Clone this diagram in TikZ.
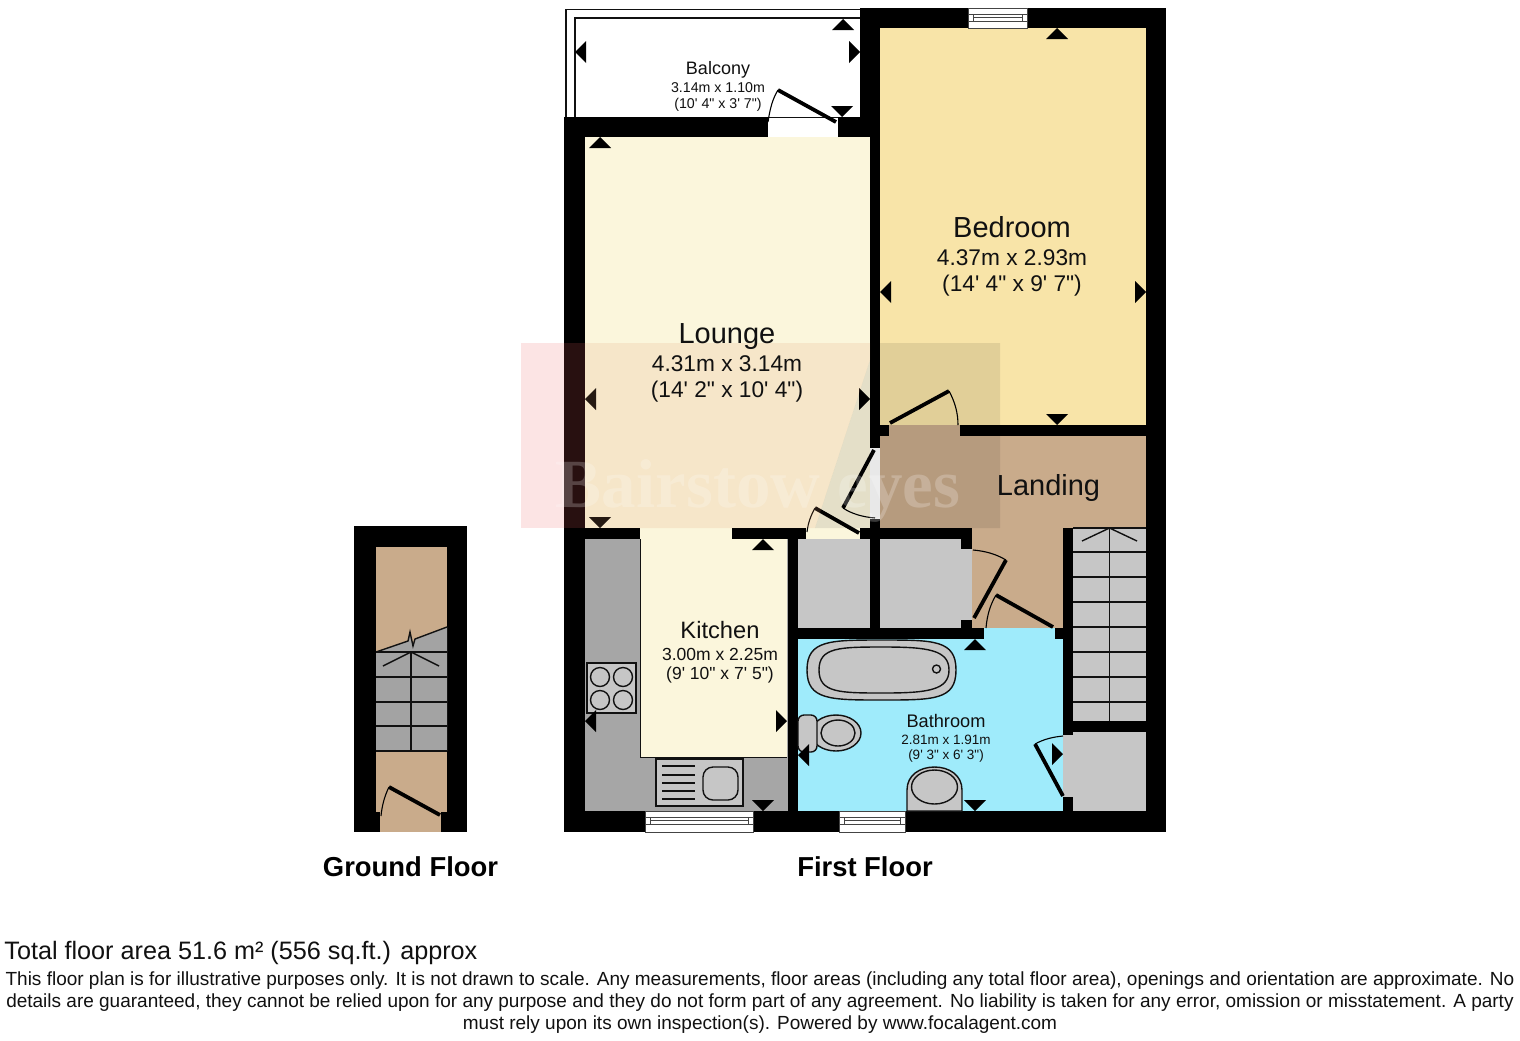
\documentclass[tikz,border=0pt]{standalone}
\usepackage{fontspec}
\newfontfamily\pf{Liberation Sans}
\newcommand{\pfs}[1]{\pf\fontsize{\fpeval{#1*0.5}}{\fpeval{#1*0.6}}\selectfont}
\definecolor{lounge}{HTML}{FBF6DC}
\definecolor{bedroom}{HTML}{F8E4A8}
\definecolor{landing}{HTML}{C9AB8B}
\definecolor{bath}{HTML}{9FEBFB}
\definecolor{kitgrey}{HTML}{A6A6A6}
\definecolor{cup}{HTML}{C6C6C6}
\definecolor{gstair}{HTML}{A3A3A3}
\definecolor{ink}{HTML}{111111}
\definecolor{winline}{HTML}{444444}
\definecolor{markpink}{HTML}{F06060}
\definecolor{markpeach}{HTML}{E09A70}
\tikzset{
 wall/.style={fill=black,draw=none},
 leaf/.style={line width=1.9pt,draw=black},
 swing/.style={line width=0.55pt,draw=black},
 fix/.style={line width=0.7pt,draw=ink,fill=cup},
 thin/.style={line width=0.7pt,draw=ink},
 lab/.style={anchor=base,inner sep=0pt,text=ink},
 tri/.style={fill=black,draw=none},
}
\newcommand{\tup}[2]{\fill[tri] (#1,#2) -- (#1-11,#2+11) -- (#1+11,#2+11) -- cycle;}
\newcommand{\tdn}[2]{\fill[tri] (#1,#2) -- (#1-11,#2-11) -- (#1+11,#2-11) -- cycle;}
\newcommand{\tlf}[2]{\fill[tri] (#1,#2) -- (#1+11,#2-11) -- (#1+11,#2+11) -- cycle;}
\newcommand{\trt}[2]{\fill[tri] (#1,#2) -- (#1-11,#2-11) -- (#1-11,#2+11) -- cycle;}
\newcommand{\win}[4]{\draw[line width=0.5pt,draw=winline,fill=white] (#1,#2) rectangle (#3,#4);
  \draw[line width=0.5pt,draw=winline] (#1,#2+6) -- (#3,#2+6) (#1,#2+13) -- (#3,#2+13);
  \draw[line width=0.4pt,draw=winline] (#1+5,#2+6) -- (#1+5,#2+13) (#3-5,#2+6) -- (#3-5,#2+13) (#1+5,#2+9.5) -- (#3-5,#2+9.5);}
\begin{document}
\begin{tikzpicture}[x=0.5pt,y=-0.5pt]
\useasboundingbox (0,0) rectangle (1520,1040);
\fill[white] (0,0) rectangle (1520,1040);
% ---------- room fills
\fill[lounge] (585,137) rectangle (870,539);
\fill[white] (768,117) rectangle (838,137);
\fill[bedroom] (880,28) rectangle (1146,425);
\fill[landing] (880,425) -- (1146,425) -- (1146,528) -- (1063,528) -- (1063,628) -- (972,628) -- (972,530) -- (880,530) -- cycle;
\fill[kitgrey] (584,539) rectangle (788,811);
\fill[lounge] (640,539) rectangle (787,757);
\draw[line width=0.5pt,draw=ink] (640,539) -- (640,757) -- (787,757);
\fill[cup] (798,539) rectangle (870,628);
\fill[cup] (880,539) rectangle (972,628);
\fill[bath] (798,639) rectangle (1063,811);
\fill[bath] (984,628) rectangle (1055,639);
\fill[cup] (1063,732) rectangle (1146,811);
\fill[cup] (1073,528) rectangle (1146,721);
% ---------- balcony
\draw[thin] (860,9.5) -- (566,9.5) -- (566,117);
\draw[thin] (860,18) -- (575,18) -- (575,117);
\draw[line width=0.5pt,draw=ink] (768,117) -- (838,117);
% ---------- walls first floor
\fill[wall] (860,8) rectangle (1166,28);
\fill[wall] (1146,8) rectangle (1166,832);
\fill[wall] (564,117) rectangle (768,137);
\fill[wall] (838,117) rectangle (880,137);
\fill[wall] (860,8) rectangle (880,137);
\fill[wall] (564,117) rectangle (584.5,832);
\fill[wall] (564,811) rectangle (1166,832);
\fill[wall] (870,137) rectangle (880,448);
\fill[wall] (870,425) rectangle (889,436);
\fill[wall] (960,425) rectangle (1146,436);
\fill[wall] (870,519) rectangle (880,628);
\fill[wall] (584,528) rectangle (640,539);
\fill[wall] (732,528) rectangle (806,539);
\fill[wall] (860,528) rectangle (972,539);
\fill[wall] (961,539) rectangle (972,549);
\fill[wall] (961,620) rectangle (972,628);
\fill[wall] (788,528) rectangle (798,832);
\fill[wall] (788,628) rectangle (984,639);
\fill[wall] (1055,628) rectangle (1073,639);
\fill[wall] (1063,528) rectangle (1073,735);
\fill[wall] (1063,721) rectangle (1146,732);
\fill[wall] (1063,797) rectangle (1073,811);
% ---------- windows
\win{968}{8}{1027}{28}
\win{645}{811}{753}{832}
\win{839}{811}{905}{832}
% ---------- stairs first floor
\draw[thin] (1109.5,528) -- (1109.5,721);
\foreach \y in {528,552,577,602,627,652,677,702} \draw[thin] (1073,\y) -- (1146,\y);
\draw[thin] (1082,541) -- (1109.5,528) -- (1137,541);
% ---------- fixtures
\draw[fix] (587,663) rectangle (636,713);
\foreach \a/\b in {600/677,623/677,600/700,623/700} \draw[thin] (\a,\b) circle (9.5);
\draw[fix] (656,759) rectangle (743,806);
\foreach \y in {766,775,783,791,799} \draw[thin] (662,\y) -- (695,\y);
\draw[fix,rounded corners=5pt] (703,767) rectangle (738,800);
\draw[fix] (807,670) .. controls (807,640) and (830,640) .. (882,640) .. controls (934,640) and (956,640) .. (956,670) .. controls (956,700) and (934,700) .. (882,700) .. controls (830,700) and (807,700) .. (807,670) -- cycle;
\draw[thin] (819,670) .. controls (819,647) and (840,647) .. (884,647) .. controls (928,647) and (949,650) .. (949,670) .. controls (949,690) and (928,693) .. (884,693) .. controls (840,693) and (819,693) .. (819,670) -- cycle;
\draw[thin] (936.5,669) circle (4);
\draw[fix] (836,733) ellipse (25 and 18);
\draw[fix,rounded corners=3pt] (798,715) rectangle (817,752);
\draw[thin] (838,733) ellipse (17 and 13);
\draw[fix] (907,811) -- (907,790) .. controls (907,775) and (920,767) .. (934.5,767) .. controls (949,767) and (962,775) .. (962,790) -- (962,811) -- cycle;
\draw[thin] (934.5,787) ellipse (23 and 17);
% ---------- doors
\draw[swing] (768,122) .. controls (770,108) and (773,98) .. (778,90);
\draw[leaf] (778,90) -- (836,122);
\draw[swing] (949,391) .. controls (955,402) and (958,413) .. (958,425);
\draw[leaf] (890,423) -- (949,391);
\draw[swing] (843,508) .. controls (852,514) and (863,517) .. (875,518);
\draw[leaf] (874,450) -- (843,508);
\draw[swing] (815,508) .. controls (811,515) and (808,523) .. (807,532);
\draw[leaf] (859,533) -- (815,508);
\draw[swing] (1006,560) .. controls (996,554) and (985,551) .. (973,550);
\draw[leaf] (974,618) -- (1006,560);
\draw[swing] (996,595) .. controls (990,605) and (987,616) .. (986,628);
\draw[leaf] (1053,627) -- (996,595);
\draw[swing] (1035,744) .. controls (1044,739) and (1053,737) .. (1063,736);
\draw[leaf] (1063,796) -- (1035,744);
% ---------- dimension markers
\tup{843}{19} \tlf{575}{52} \trt{860}{52} \tdn{842}{117}
\tup{600}{137} \tlf{585}{399} \trt{870}{399} \tdn{600}{528}
\tup{1057}{28} \tlf{880}{292} \trt{1146}{292} \tdn{1057}{425}
\tup{763}{539} \tlf{585}{721} \trt{787}{721} \tdn{763}{811}
\tup{975}{639} \tlf{798}{755} \trt{1063}{754} \tdn{975}{811}
% ---------- ground floor
\fill[wall] (354,526) rectangle (467,832);
\fill[landing] (376,547) rectangle (447,752);
\fill[landing] (376,752) rectangle (447,812);
\fill[landing] (380,812) rectangle (441,832);
\fill[gstair] (376,652) -- (408,641) -- (410,632) -- (413,646) -- (415,639) -- (447,627) -- (447,751) -- (376,751) -- cycle;
\draw[line width=0.7pt,draw=ink] (376,652) -- (408,641) -- (410,632) -- (413,646) -- (415,639) -- (447,627);
\draw[thin] (411,652) -- (411,751);
\foreach \y in {652,677,702,726,751} \draw[thin] (376,\y) -- (447,\y);
\draw[thin] (383,666) -- (411,652) -- (439,666);
\draw[swing] (381,816) .. controls (382,805) and (385,795) .. (389,787);
\draw[leaf] (389,787) -- (440,815);
% ---------- watermark
\fill[markpink,opacity=0.17] (521,343) rectangle (585,528);
\fill[markpeach,opacity=0.17] (585,343) -- (870,343) -- (870,360) -- (815,528) -- (585,528) -- cycle;
\fill[black,opacity=0.09] (870,360) -- (870,343) -- (1000,343) -- (1000,528) -- (815,528) -- cycle;
\node[anchor=base,inner sep=0pt,text=white,opacity=0.22] (mark) at (758,507) {\fontspec{Liberation Serif}\fontsize{34.5}{36}\selectfont\bfseries Bairstow eyes};
% ---------- labels
\node[lab] (balcony) at (718,74) {\pfs{18}Balcony};
\node[lab] (balconya) at (718,92) {\pfs{14.2}3.14m x 1.10m};
\node[lab] (balconyb) at (718,108) {\pfs{14.2}(10' 4" x 3' 7")};
\node[lab] (bedrooma) at (1012,237) {\pfs{29}Bedroom};
\node[lab] (bedroomb) at (1012,265) {\pfs{22.7}4.37m x 2.93m};
\node[lab] (bedroomc) at (1012,291) {\pfs{22.7}(14' 4" x 9' 7")};
\node[lab] (loungea) at (727,343) {\pfs{29}Lounge};
\node[lab] (loungeb) at (727,371) {\pfs{22.7}4.31m x 3.14m};
\node[lab] (loungec) at (727,397) {\pfs{22.7}(14' 2" x 10' 4")};
\node[lab] (landingl) at (1048.5,495) {\pfs{29}Landing};
\node[lab] (kitchena) at (720,638) {\pfs{23.7}Kitchen};
\node[lab] (kitchenb) at (720,660) {\pfs{17.5}3.00m x 2.25m};
\node[lab] (kitchenc) at (720,679) {\pfs{17.5}(9' 10" x 7' 5")};
\node[lab] (batha) at (946,727) {\pfs{18.2}Bathroom};
\node[lab] (bathb) at (946,744) {\pfs{13.5}2.81m x 1.91m};
\node[lab] (bathc) at (946,759) {\pfs{13.5}(9' 3" x 6' 3")};
\node[lab,text=black] (ground) at (410.5,876) {\pfs{27.4}\bfseries Ground Floor};
\node[lab,text=black] (first) at (865,876) {\pfs{27.4}\bfseries First Floor};
\node[anchor=base west,inner sep=0pt,text=ink] (total) at (4,959) {\pfs{25.2}Total floor area 51.6 m² (556 sq.ft.) approx};
\node[lab] (d1) at (760,985) {\pfs{19}This floor plan is for illustrative purposes only. It is not drawn to scale. Any measurements, floor areas (including any total floor area), openings and orientation are approximate. No};
\node[lab] (d2) at (760,1007) {\pfs{19}details are guaranteed, they cannot be relied upon for any purpose and they do not form part of any agreement. No liability is taken for any error, omission or misstatement. A party};
\node[lab] (d3) at (760,1029) {\pfs{19}must rely upon its own inspection(s). Powered by www.focalagent.com};
\end{tikzpicture}
\end{document}
